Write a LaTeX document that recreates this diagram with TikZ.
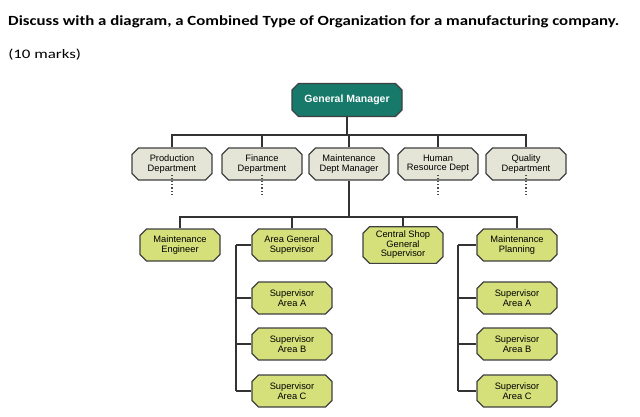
\documentclass[tikz,border=0pt]{standalone}
\usepackage{fontspec}
\setmainfont{Liberation Sans}
\newfontfamily\titlefont{Carlito}
\usetikzlibrary{shapes.misc}
\definecolor{gmteal}{HTML}{17796A}
\definecolor{deptgray}{HTML}{E4E5D6}
\definecolor{maintgreen}{HTML}{D6E07A}
\tikzset{
  box/.style = {draw=black!75, line width=1.2pt, shape=chamfered rectangle, chamfered rectangle xsep=3pt,
    minimum width=80pt, minimum height=32pt, inner sep=1pt, align=center, font=\fontsize{9.3}{9.5}\selectfont},
  dept/.style = {box, fill=deptgray},
  mnt/.style = {box, fill=maintgreen},
  gm/.style = {box, fill=gmteal, text=white, minimum width=110pt, minimum height=33pt, font=\bfseries\fontsize{10.5}{11}\selectfont},
  link/.style = {draw=black!80, line width=1.2pt},
  dots/.style = {draw=black!70, line width=1.2pt, dotted}
}
\begin{document}
\begin{tikzpicture}[x=1pt, y=-1pt]
  \useasboundingbox (0,0) rectangle (640,416);
  \node[anchor=west, inner sep=0pt, xscale=1.2, transform shape, font=\titlefont\bfseries\fontsize{14}{16}\selectfont] (title) at (8,22)
    {Discuss with a diagram, a Combined Type of Organization for a manufacturing company.};
  \node[anchor=west, inner sep=0pt, xscale=1.3, transform shape, font=\titlefont\fontsize{13}{15}\selectfont] (marks) at (8,55) {(10 marks)};
  % top
  \node[gm] (gm) at (347,100) {General Manager};
  % departments
  \node[dept] (prod) at (172,164) {Production\\Department};
  \node[dept] (fin) at (262,164) {Finance\\Department};
  \node[dept] (mdm) at (349,164) {Maintenance\\Dept Manager};
  \node[dept] (hr) at (438,164) {Human\\Resource Dept};
  \node[dept] (qual) at (526,164) {Quality\\Department};
  \coordinate (bus1) at (347,135);
  \draw[link] (gm.south) -- (bus1);
  \draw[link] (prod.north) |- (bus1) -| (qual.north);
  \foreach \d in {fin, mdm, hr}
    \draw[link] (\d.north) -- (\d.north |- bus1);
  \foreach \d in {prod, fin, hr, qual}
    \draw[dots] ([yshift=6pt]\d.south) -- ++(0,20);
  % maintenance branch
  \node[mnt] (meng) at (180,245) {Maintenance\\Engineer};
  \node[mnt] (ags) at (292,245) {Area General\\Supervisor};
  \node[mnt] (csg) at (403,245) {Central Shop\\General\\Supervisor};
  \node[mnt] (mpl) at (517,245) {Maintenance\\Planning};
  \coordinate (bus2) at (349,217);
  \draw[link] (mdm.south) -- (bus2);
  \draw[link] (meng.north) |- (bus2) -| (mpl.north);
  \foreach \d in {ags, csg}
    \draw[link] (\d.north) -- (\d.north |- bus2);
  % supervisors
  \foreach \p/\t/\x in {l/236/292, r/458/517} {
    \coordinate (trunk\p) at (\t,245);
    \foreach \a/\y in {A/298, B/344, C/391} {
      \node[mnt] (sup\p\a) at (\x,\y) {Supervisor\\Area \a};
      \draw[link] (sup\p\a.west) -- (sup\p\a.west -| trunk\p);
    }
    \draw[link] (trunk\p) -- (trunk\p |- sup\p C.west);
  }
  \draw[link] (ags.west) -- (trunkl);
  \draw[link] (mpl.west) -- (trunkr);
\end{tikzpicture}
\end{document}
